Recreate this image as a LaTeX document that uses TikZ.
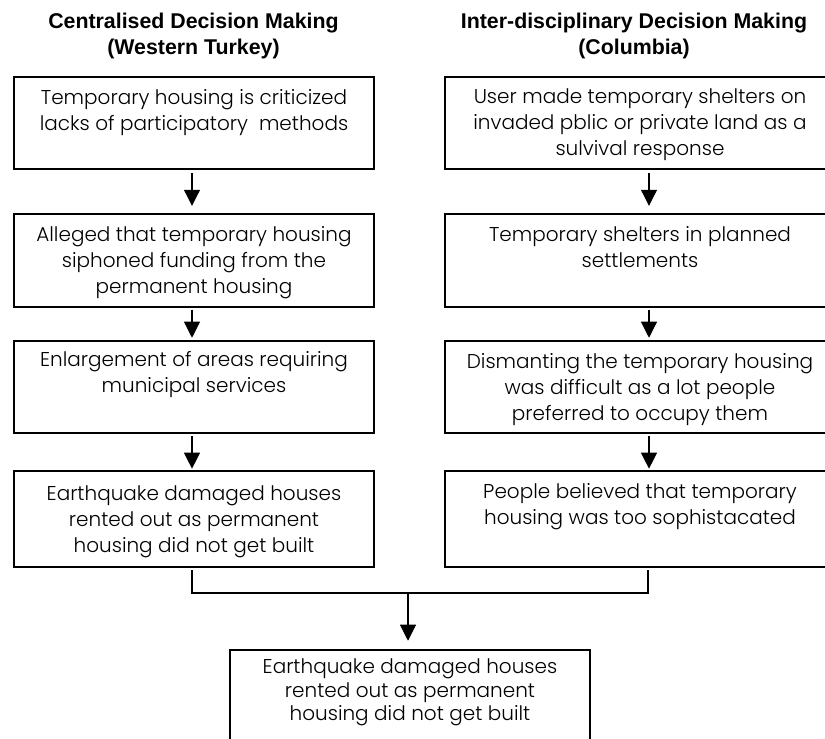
\documentclass[tikz,border=0pt]{standalone}
\usepackage{fontspec}
\setmainfont{Poppins}[UprightFont=* Light]
\newfontfamily\titlefont{Liberation Sans}
\usetikzlibrary{arrows.meta}
\begin{document}
\begin{tikzpicture}[x=0.75pt,y=-0.75pt,
  boxst/.style={draw, line width=1.9pt, inner sep=0pt, minimum width=270pt, minimum height=69pt},
  wide/.style={minimum width=292.5pt},
  txt/.style={inner sep=0pt, anchor=north, align=center, font=\fontsize{15}{19.5}\selectfont},
  ttl/.style={inner sep=0pt, anchor=north, align=center, font=\titlefont\bfseries\fontsize{16}{19.5}\selectfont},
  arr/.style={line width=0.8pt, -{Triangle[width=12pt,length=12pt]}},
  brk/.style={line width=1.1pt}
]
\useasboundingbox (0,0) rectangle (825,739);
\clip (0,0) rectangle (825,739);

% titles
\node[ttl] (tl) at (193.5,13) {Centralised Decision Making\\(Western Turkey)};
\node[ttl] (tr) at (634,13) {Inter-disciplinary Decision Making\\(Columbia)};

% left column boxes
\node[boxst] (l1) at (194,123) {};
\node[boxst, minimum height=69.75pt] (l2) at (194,260.5) {};
\node[boxst] (l3) at (194,387) {};
\node[boxst, minimum height=72pt] (l4) at (194,519) {};

% right column boxes
\node[boxst, wide] (r1) at (640,123) {};
\node[boxst, wide, minimum height=69.75pt] (r2) at (640,260.5) {};
\node[boxst, wide] (r3) at (640,387) {};
\node[boxst, wide, minimum height=72pt] (r4) at (640,519) {};

% bottom box
\node[boxst, minimum height=82.5pt] (b) at (410,705) {};

% texts
\node[txt] (l1t) at ([yshift=-9.75pt]l1.north) {Temporary housing is criticized\\lacks of participatory~ methods};
\node[txt] (l2t) at ([yshift=-9.75pt]l2.north) {Alleged that temporary housing\\siphoned funding from the\\permanent housing};
\node[txt] (l3t) at ([yshift=-8.5pt]l3.north) {Enlargement of areas requiring\\municipal services};
\node[txt] (l4t) at ([yshift=-11.5pt]l4.north) {Earthquake damaged houses\\rented out as permanent\\housing did not get built};

\node[txt] (r1t) at ([yshift=-9.75pt]r1.north) {User made temporary shelters on\\invaded pblic or private land as a\\sulvival response};
\node[txt] (r2t) at ([yshift=-9.75pt]r2.north) {Temporary shelters in planned\\settlements};
\node[txt] (r3t) at ([yshift=-9.75pt]r3.north) {Dismanting the temporary housing\\was difficult as a lot people\\preferred to occupy them};
\node[txt] (r4t) at ([yshift=-9.75pt]r4.north) {People believed that temporary\\housing was too sophistacated};

\node[txt, font=\fontsize{15}{17.6}\selectfont] (bt) at ([yshift=-7.5pt]b.north) {Earthquake damaged houses\\rented out as permanent\\housing did not get built};

% arrow columns
\coordinate (lx) at (192,0);
\coordinate (rx) at (649,0);
\coordinate (jn) at (408,593);

\draw[arr, shorten <=2.2pt, shorten >=5.2pt] (l1.south -| lx) -- (l2.north -| lx);
\draw[arr, shorten <=1.2pt, shorten >=1.5pt] (l2.south -| lx) -- (l3.north -| lx);
\draw[arr, shorten <=1.2pt, shorten >=0.8pt] (l3.south -| lx) -- (l4.north -| lx);

\draw[arr, shorten <=2.2pt, shorten >=5.2pt] (r1.south -| rx) -- (r2.north -| rx);
\draw[arr, shorten <=1.2pt, shorten >=1.5pt] (r2.south -| rx) -- (r3.north -| rx);
\draw[arr, shorten <=1.2pt, shorten >=0.8pt] (r3.south -| rx) -- (r4.north -| rx);

% join bracket
\draw[brk, shorten <=1.5pt, shorten >=1.5pt] (l4.south -| lx) |- (jn) -| ([xshift=-0.75pt]r4.south -| rx);
\draw[arr, shorten >=6pt] (jn) -- (b.north -| jn);
\end{tikzpicture}
\end{document}
